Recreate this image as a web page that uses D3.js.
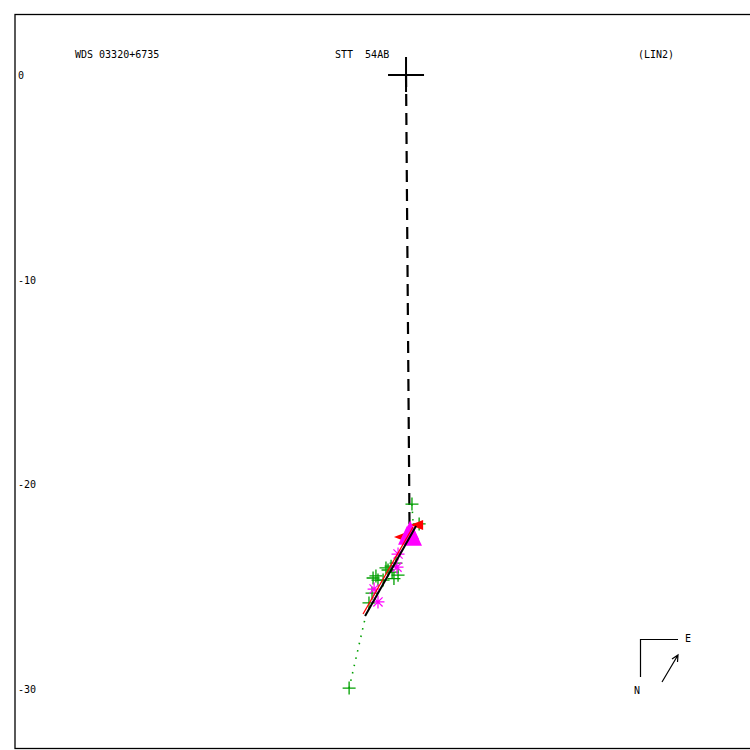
<!DOCTYPE html>
<html><head><meta charset="utf-8">
<script src="https://cdn.jsdelivr.net/npm/d3@7"></script>
<style>body{margin:0;background:#fff}svg{display:block}text{font-family:"DejaVu Sans Mono",monospace;font-size:10px;fill:#000}</style>
</head><body>
<script>
// ---- data (arcsec offsets, x right, y up) ----
const title = ["WDS 03320+6735", "STT  54AB", "(LIN2)"];
const yTicks = [0, -10, -20, -30];
const greenPlus = [[0.29,-20.96],[-2.78,-29.95],[-1.47,-24.47],[-0.98,-24.08],[-0.39,-24.43],[-0.49,-23.84],[-0.68,-24.28],[-1.12,-24.67],[-1.66,-25.31],[-1.81,-25.79],[-1.61,-24.57],[-0.88,-24.18],[-1.37,-24.67],[-0.73,-23.99],[0.64,-21.93],[-0.59,-24.60]];
const magentaStar = [[-0.39,-23.40],[-0.44,-24.04],[-1.56,-25.11],[-1.37,-25.74]];
const magentaTri = [[0.20,-22.30],[0.34,-22.60],[0.05,-22.55]];
const redTri = [[-0.20,-22.57],[0.59,-21.98]];
const fitLine = [[-2.00,-26.43],[0.49,-22.03]];
const ephemLine = [[-2.10,-26.33],[0.34,-22.08]];
const nodeLine = [[0,0],[0.17,-22.03]];
const ocLines = [[[-2.78,-29.95],[-1.95,-26.33]],[[0.29,-20.96],[0.34,-21.84]]];

const W=750,H=750;
const svg=d3.select("body").append("svg").attr("width",W).attr("height",H);
const x=d3.scaleLinear().domain([-19.1,16.85]).range([15,751]);
const y=d3.scaleLinear().domain([2.96,-32.9]).range([14.5,748.5]);

svg.append("rect").attr("x",15).attr("y",14.5).attr("width",745).attr("height",734)
  .attr("fill","none").attr("stroke","#000").attr("stroke-width",1.3);

// y tick labels
svg.selectAll(".yl").data(yTicks).enter().append("text")
  .attr("x",18).attr("y",d=>y(d)+4).text(d=>d);

// titles
svg.append("text").attr("x",75).attr("y",58).text(title[0]);
svg.append("text").attr("x",335).attr("y",58).style("white-space","pre").text(title[1]);
svg.append("text").attr("x",638).attr("y",58).text(title[2]);

const line=d3.line().x(d=>x(d[0])).y(d=>y(d[1]));

// dashed line from primary
svg.append("path").attr("d",line(nodeLine)).attr("stroke","#000").attr("stroke-width",2.2)
  .attr("fill","none").attr("stroke-dasharray","12,7");

// O-C dotted lines
ocLines.forEach(l=>svg.append("path").attr("d",line(l)).attr("stroke","#00a000")
  .attr("stroke-width",1.6).attr("fill","none").attr("stroke-dasharray","1.5,6"));

// primary cross
svg.append("path").attr("d",`M${x(0)-18},${y(0)}H${x(0)+18}M${x(0)},${y(0)-18}V${y(0)+17}`)
  .attr("stroke","#000").attr("stroke-width",2);

// green plus
svg.selectAll(".gp").data(greenPlus).enter().append("path")
  .attr("d",d=>`M${x(d[0])-6.5},${y(d[1])}H${x(d[0])+6.5}M${x(d[0])},${y(d[1])-6.5}V${y(d[1])+6.5}`)
  .attr("stroke","#00a000").attr("stroke-width",1.3);

// magenta asterisks
svg.selectAll(".ms").data(magentaStar).enter().append("path")
  .attr("d",d=>{const cx=x(d[0]),cy=y(d[1]),r=6.5,s=4.6;
    return `M${cx-r},${cy}H${cx+r}M${cx},${cy-r}V${cy+r}M${cx-s},${cy-s}L${cx+s},${cy+s}M${cx-s},${cy+s}L${cx+s},${cy-s}`;})
  .attr("stroke","#ff00ff").attr("stroke-width",1.2);

// red triangles (left pointing)
svg.selectAll(".rt").data(redTri).enter().append("path")
  .attr("d",d=>{const cx=x(d[0]),cy=y(d[1]);return `M${cx-8},${cy}L${cx+5},${cy-5}L${cx+5},${cy+5}Z`;})
  .attr("fill","#ff0000");

// magenta filled triangles
svg.selectAll(".mt").data(magentaTri).enter().append("path")
  .attr("d",d=>{const cx=x(d[0]),cy=y(d[1]);return `M${cx},${cy-11}L${cx+9},${cy+8}L${cx-9},${cy+8}Z`;})
  .attr("fill","#ff00ff");

// ephemeris (red) and fit (black) lines
svg.append("path").attr("d",line(ephemLine)).attr("stroke","#ff0000").attr("stroke-width",1.3).attr("fill","none");
svg.append("path").attr("d",line(fitLine)).attr("stroke","#000").attr("stroke-width",2).attr("fill","none");

// compass
const g=svg.append("g").attr("stroke","#000").attr("stroke-width",1.2).attr("fill","none");
g.append("path").attr("d","M640.5,677V639.5H678");
g.append("path").attr("d","M662,682L678,655M672,659L678,655L677.5,662");
svg.append("text").attr("x",685).attr("y",642).text("E");
svg.append("text").attr("x",634).attr("y",694).text("N");
</script>
</body></html>
